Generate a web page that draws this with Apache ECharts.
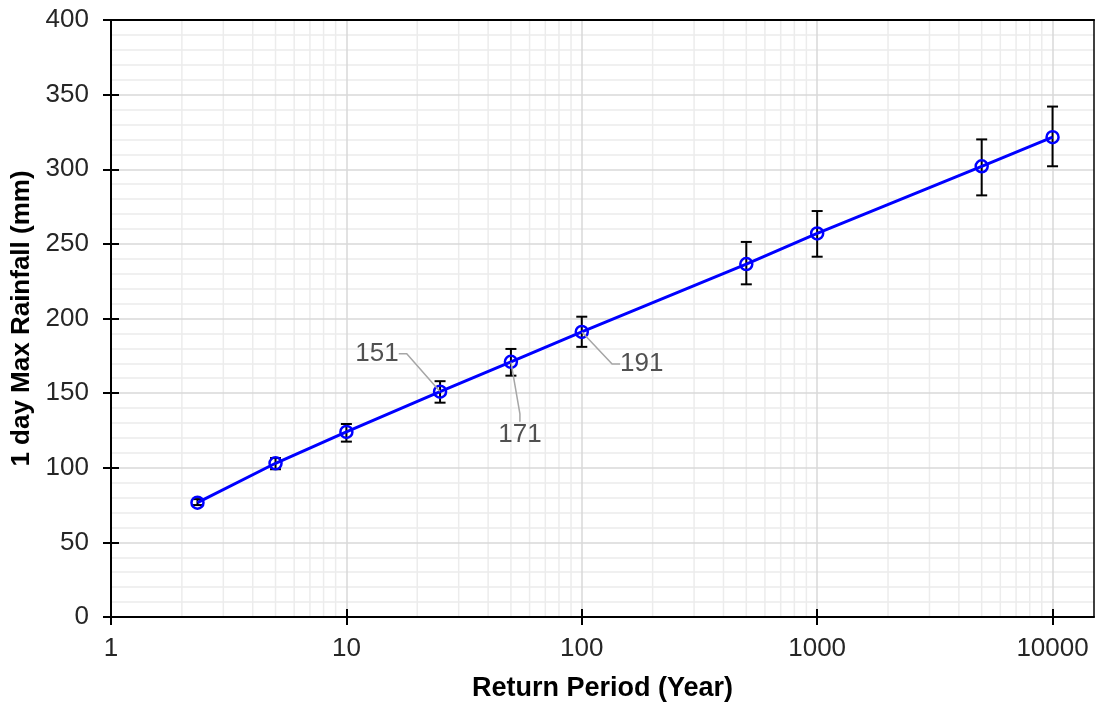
<!DOCTYPE html>
<html>
<head>
<meta charset="utf-8">
<script src="https://cdn.jsdelivr.net/npm/echarts@6/dist/echarts.min.js"></script>
<style>
  html, body { margin: 0; padding: 0; background: #fff; }
  #chart { width: 1096px; height: 702px; }
</style>
</head>
<body>
<div id="chart"></div>
<script>
// return periods (years) and estimated 1 day max rainfall
var periods = [2.33, 5, 10, 25, 50, 100, 500, 1000, 5000, 10000];
var rainfall = [76.6, 103, 124, 151, 171, 191, 236.5, 257, 302, 321.5];
var lower = [75, 99, 117.5, 143.6, 161.7, 181, 222.9, 241.4, 282.5, 302];
var upper = [79, 106.5, 129.3, 158, 179.6, 201.2, 251.3, 272, 320, 342];

// points that carry a value label
var labelled = [3, 4, 5];

var xMajor = [1, 10, 100, 1000, 10000];
var xMinor = [2, 3, 4, 5, 6, 7, 8, 9, 20, 30, 40, 50, 60, 70, 80, 90,
  200, 300, 400, 500, 600, 700, 800, 900, 2000, 3000, 4000, 5000, 6000, 7000, 8000, 9000];

var chart = echarts.init(document.getElementById("chart"));

var font = "'Liberation Sans', Arial, sans-serif";

var lineData = periods.map(function (p, i) { return [p, rainfall[i]]; });
var errData = periods.map(function (p, i) { return [p, lower[i], upper[i]]; });
var labelData = labelled.map(function (i) { return [periods[i], rainfall[i]]; });
var minorData = xMinor.map(function (v) { return [v, 0]; });

// label offsets from the point (px)
var labelShift = [[-63, -38], [9, 73], [60, 32]];

function errorBar(params, api) {
  var x = api.value(0);
  var lo = api.coord([x, api.value(1)]);
  var hi = api.coord([x, api.value(2)]);
  var w = 5.5;
  var st = { stroke: "#000", lineWidth: 2 };
  return {
    type: "group",
    children: [
      { type: "line", shape: { x1: hi[0], y1: hi[1], x2: lo[0], y2: lo[1] }, style: st },
      { type: "line", shape: { x1: hi[0] - w, y1: hi[1], x2: hi[0] + w, y2: hi[1] }, style: st },
      { type: "line", shape: { x1: lo[0] - w, y1: lo[1], x2: lo[0] + w, y2: lo[1] }, style: st }
    ]
  };
}

function minorGrid(params, api) {
  var cs = params.coordSys;
  var px = api.coord([api.value(0), 0])[0];
  return {
    type: "line",
    shape: { x1: px, y1: cs.y, x2: px, y2: cs.y + cs.height },
    style: { stroke: "#ececec", lineWidth: 1.5 }
  };
}

function plainNumber(v) { return String(v); }

var option = {
  animation: false,
  backgroundColor: "#fff",
  textStyle: { fontFamily: font },
  grid: {
    left: 111,
    right: 2,
    top: 20,
    bottom: 85,
    outerBoundsMode: "none"
  },
  xAxis: [
    {
      type: "log",
      logBase: 10,
      min: 1,
      max: 15000,
      name: "Return Period (Year)",
      nameLocation: "middle",
      nameGap: 58,
      nameTextStyle: { fontFamily: font, fontSize: 27, fontWeight: "bold", color: "#000" },
      axisLine: { lineStyle: { color: "#000", width: 2 } },
      axisTick: { show: true, length: 8, customValues: xMajor, lineStyle: { color: "#000", width: 2 } },
      axisLabel: {
        customValues: xMajor,
        margin: 19,
        fontFamily: font,
        fontSize: 26,
        color: "#262626",
        formatter: plainNumber
      },
      splitLine: { show: true, lineStyle: { color: "#d9d9d9", width: 1.5 } },
      z: 3
    },
    {
      type: "log",
      logBase: 10,
      min: 1,
      max: 15000,
      position: "bottom",
      offset: 0,
      axisLine: { show: false },
      axisTick: { show: true, inside: true, length: 8, customValues: xMajor, lineStyle: { color: "#000", width: 2 } },
      axisLabel: { show: false },
      splitLine: { show: false },
      z: 4
    },
    {
      type: "log",
      logBase: 10,
      min: 1,
      max: 15000,
      position: "top",
      axisLine: { show: true, onZero: false, lineStyle: { color: "#000", width: 2 } },
      axisTick: { show: false },
      axisLabel: { show: false },
      splitLine: { show: false },
      z: 4
    }
  ],
  yAxis: [
    {
      type: "value",
      min: 0,
      max: 400,
      interval: 50,
      name: "1 day Max Rainfall (mm)",
      nameLocation: "middle",
      nameGap: 76,
      nameTextStyle: { fontFamily: font, fontSize: 26, fontWeight: "bold", color: "#000" },
      axisLine: { show: true, lineStyle: { color: "#000", width: 2 } },
      axisTick: { show: true, length: 8, lineStyle: { color: "#000", width: 2 } },
      axisLabel: { margin: 22, fontFamily: font, fontSize: 26, color: "#262626" },
      splitLine: { show: true, lineStyle: { color: "#d9d9d9", width: 1.5 } },
      minorTick: { show: false, splitNumber: 5 },
      minorSplitLine: { show: true, lineStyle: { color: "#ececec", width: 1.5 } },
      z: 3
    },
    {
      type: "value",
      min: 0,
      max: 400,
      interval: 50,
      position: "left",
      offset: 0,
      axisLine: { show: false },
      axisTick: { show: true, inside: true, length: 8, lineStyle: { color: "#000", width: 2 } },
      axisLabel: { show: false },
      splitLine: { show: false },
      z: 4
    },
    {
      type: "value",
      min: 0,
      max: 400,
      interval: 50,
      position: "right",
      axisLine: { show: true, onZero: false, lineStyle: { color: "#000", width: 1.5 } },
      axisTick: { show: false },
      axisLabel: { show: false },
      splitLine: { show: false },
      z: 4
    }
  ],
  series: [
    {
      name: "minor",
      type: "custom",
      renderItem: minorGrid,
      data: minorData,
      silent: true,
      z: 0
    },
    {
      name: "error",
      type: "custom",
      renderItem: errorBar,
      encode: { x: 0, y: [1, 2] },
      data: errData,
      z: 5
    },
    {
      name: "Rainfall",
      type: "line",
      data: lineData,
      symbol: "circle",
      symbolSize: 12,
      showSymbol: true,
      lineStyle: { color: "#0000ff", width: 3 },
      itemStyle: { color: "rgba(0,0,0,0)", borderColor: "#0000ff", borderWidth: 2.5 },
      z: 6
    },
    {
      name: "labels",
      type: "scatter",
      data: labelData,
      symbolSize: 1,
      itemStyle: { color: "rgba(0,0,0,0)" },
      silent: true,
      label: {
        show: true,
        position: "inside",
        fontFamily: font,
        fontSize: 26,
        color: "#262626",
        formatter: function (p) { return p.value[1]; }
      },
      labelLine: { show: true, length2: 8, lineStyle: { color: "#a6a6a6", width: 1.5 } },
      labelLayout: function (p) {
        var s = labelShift[p.dataIndex];
        return { dx: s[0], dy: s[1] };
      },
      z: 7
    }
  ]
};

chart.setOption(option);
</script>
</body>
</html>
